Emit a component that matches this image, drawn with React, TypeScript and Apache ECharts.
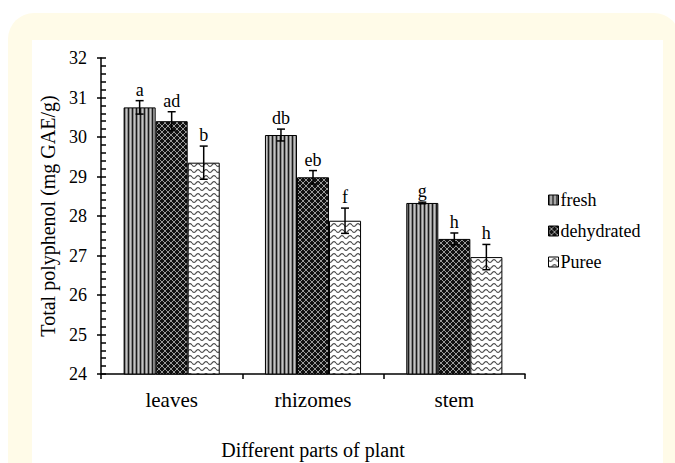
import React, { useEffect, useRef } from "react";
import * as echarts from "echarts";

const categories = ["leaves", "rhizomes", "stem"];
const seriesNames = ["fresh", "dehydrated", "Puree"];
const freshValues = [30.75, 30.05, 28.33];
const freshErrors = [0.17, 0.15, 0.02];
const dehydratedValues = [30.4, 28.98, 27.42];
const dehydratedErrors = [0.24, 0.17, 0.15];
const pureeValues = [29.35, 27.88, 26.96];
const pureeErrors = [0.42, 0.32, 0.32];
const freshLetters = ["a", "db", "g"];
const dehydratedLetters = ["ad", "eb", "h"];
const pureeLetters = ["b", "f", "h"];
const yTicks = { min: 24, max: 32, interval: 1 };

const FONT = "Liberation Serif";
const GAP = 0.32;

function makeTile(w: number, h: number, draw: (ctx: CanvasRenderingContext2D) => void) {
  const c = document.createElement("canvas");
  c.width = w;
  c.height = h;
  const ctx = c.getContext("2d")!;
  draw(ctx);
  return { image: c.toDataURL(), repeat: "repeat", imageWidth: w, imageHeight: h } as any;
}

export default function App() {
  const ref = useRef<HTMLDivElement>(null);
  useEffect(() => {
    document.body.style.margin = "0";
    const chart = echarts.init(ref.current!, null, { renderer: "svg" });

    const freshPat = makeTile(4, 4, (ctx) => {
      const cols = ["#1a1a1a", "#8a8a8a", "#c4c4c4", "#8a8a8a"];
      cols.forEach((c, i) => {
        ctx.fillStyle = c;
        ctx.fillRect(i, 0, 1, 4);
      });
    });
    const dehydPat = makeTile(6, 6, (ctx) => {
      ctx.fillStyle = "#111";
      ctx.fillRect(0, 0, 6, 6);
      ctx.fillStyle = "#9a9a9a";
      for (let i = 0; i < 6; i++) {
        ctx.fillRect(i, i, 1, 1);
        ctx.fillRect(5 - i, i, 1, 1);
      }
    });
    const pureePat = makeTile(8, 6, (ctx) => {
      ctx.fillStyle = "#ffffff";
      ctx.fillRect(0, 0, 8, 6);
      ctx.strokeStyle = "#444";
      ctx.lineWidth = 1.1;
      ctx.beginPath();
      for (let x = 0; x <= 8; x += 0.5) {
        const y = 3 + 1.4 * Math.sin((x / 8) * Math.PI * 2);
        if (x === 0) ctx.moveTo(x, y);
        else ctx.lineTo(x, y);
      }
      ctx.stroke();
    });

    const patterns = [freshPat, dehydPat, pureePat];
    const valuesArr = [freshValues, dehydratedValues, pureeValues];
    const errArr = [freshErrors, dehydratedErrors, pureeErrors];
    const lettersArr = [freshLetters, dehydratedLetters, pureeLetters];

    const barSeries = seriesNames.map((name, si) => ({
      type: "bar",
      name,
      data: valuesArr[si],
      barGap: "0%",
      barCategoryGap: GAP * 100 + "%",
      itemStyle: { color: patterns[si], borderColor: "#000", borderWidth: 1 },
      z: 2,
    }));

    const errSeries = seriesNames.map((name, si) => ({
      type: "custom",
      name: name + "_err",
      z: 10,
      encode: { x: 0, y: 1 },
      data: valuesArr[si].map((v, i) => [i, v, errArr[si][i]]),
      renderItem: (params: any, api: any) => {
        const ci = api.value(0);
        const v = api.value(1);
        const e = api.value(2);
        const lo = api.coord([ci, v - e]);
        const hi = api.coord([ci, v + e]);
        const catW = api.size([1, 0])[0];
        const bw = (catW * (1 - GAP)) / 3;
        const x = lo[0] + (si - 1) * bw;
        const cap = 4;
        const st = { stroke: "#000", lineWidth: 1.5 };
        return {
          type: "group",
          children: [
            { type: "line", shape: { x1: x, y1: lo[1], x2: x, y2: hi[1] }, style: st },
            { type: "line", shape: { x1: x - cap, y1: lo[1], x2: x + cap, y2: lo[1] }, style: st },
            { type: "line", shape: { x1: x - cap, y1: hi[1], x2: x + cap, y2: hi[1] }, style: st },
            {
              type: "text",
              x: x,
              y: hi[1] - 2,
              style: {
                text: lettersArr[si][params.dataIndex],
                fill: "#000",
                fontFamily: FONT,
                fontSize: 18,
                align: "center",
                verticalAlign: "bottom",
              },
            },
          ],
        };
      },
    }));

    chart.setOption({
      animation: false,
      backgroundColor: "#ffffff",
      textStyle: { fontFamily: FONT },
      graphic: [
        {
          type: "rect",
          z: -10,
          shape: { x: 8, y: 13, width: 672, height: 480, r: 26 },
          style: { fill: "#FFFBE8" },
        },
        {
          type: "rect",
          z: -9,
          shape: { x: 32, y: 40, width: 631, height: 430 },
          style: { fill: "#ffffff" },
        },
      ],
      legend: {
        orient: "vertical",
        left: 543,
        top: 186,
        itemWidth: 10,
        itemHeight: 10,
        itemGap: 13,
        icon: "rect",
        data: seriesNames,
        textStyle: { fontFamily: FONT, fontSize: 18, color: "#000", padding: [0, 0, 0, -3] },
        itemStyle: { borderColor: "#000", borderWidth: 1 },
      },
      grid: { left: 101, right: 150, top: 58, bottom: 89, containLabel: false, outerBoundsMode: "none" },
      xAxis: {
        type: "category",
        data: categories,
        name: "Different parts of plant",
        nameLocation: "middle",
        nameGap: 66,
        nameTextStyle: { fontFamily: FONT, fontSize: 20, color: "#000" },
        axisLine: { lineStyle: { color: "#000", width: 1.5 } },
        axisTick: { show: true, length: 5, alignWithLabel: false, lineStyle: { color: "#000", width: 1.5 } },
        axisLabel: { fontFamily: FONT, fontSize: 21, color: "#000", margin: 15 },
      },
      yAxis: [
        {
          type: "value",
          min: yTicks.min,
          max: yTicks.max,
          interval: yTicks.interval,
          name: "Total polyphenol (mg GAE/g)",
          nameLocation: "middle",
          nameGap: 38,
          nameTextStyle: { fontFamily: FONT, fontSize: 20, color: "#000" },
          axisLine: { show: true, lineStyle: { color: "#000", width: 1.5 } },
          axisTick: { show: true, inside: true, length: 5, lineStyle: { color: "#000", width: 1.5 } },
          minorTick: { show: true, splitNumber: 5, length: 5, lineStyle: { color: "#000", width: 1.5 } },
          splitLine: { show: false },
          axisLabel: { fontFamily: FONT, fontSize: 18, color: "#000", margin: 14 },
        },
        {
          type: "value",
          min: yTicks.min,
          max: yTicks.max,
          interval: yTicks.interval,
          position: "left",
          axisLine: { show: false },
          axisTick: { show: true, inside: false, length: 4, lineStyle: { color: "#000", width: 1.5 } },
          splitLine: { show: false },
          axisLabel: { show: false },
        },
      ],
      series: [...barSeries, ...errSeries],
    } as any);
    return () => chart.dispose();
  }, []);
  return (
    <div
      ref={ref}
      style={{ position: "absolute", left: 0, top: 0, width: 675, height: 463 }}
    />
  );
}
